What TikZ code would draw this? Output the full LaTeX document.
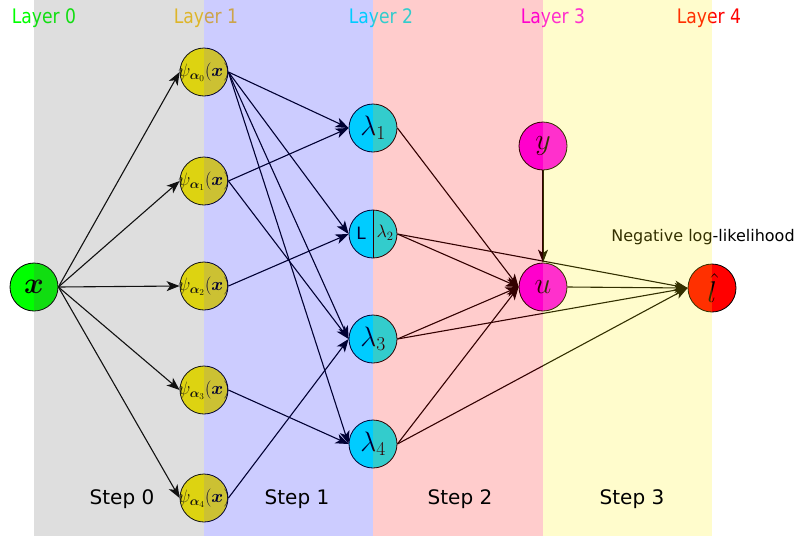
\RequirePackage{fix-cm}
\documentclass[tikz,border=0pt]{standalone}
\usepackage{amsmath}
\usepackage{fontspec}
\setsansfont{DejaVu Sans}
\newfontfamily\layerfont{DejaVu Sans}[FakeStretch=0.86]
\usetikzlibrary{arrows.meta}
\definecolor{layerzero}{RGB}{0,255,0}
\definecolor{layerone}{RGB}{255,205,30}
\definecolor{layertwo}{RGB}{0,255,255}
\definecolor{layerthree}{RGB}{255,0,255}
\definecolor{layerfour}{RGB}{255,0,0}
\begin{document}
\begin{tikzpicture}[x=1pt,y=-1pt,
  nd/.style={circle,draw=black,line width=0.8pt,minimum size=48pt,inner sep=0pt},
  psinode/.style={nd,fill=yellow,font=\fontsize{18}{21}\selectfont},
  lamnode/.style={nd,fill=layertwo,font=\fontsize{28}{32}\selectfont},
  bignode/.style={nd,font=\fontsize{30}{34}\selectfont},
  edge/.style={line width=1.1pt,-{Stealth[length=13pt,width=10pt,inset=3.5pt]}},
  layerlbl/.style={font=\layerfont\fontsize{20}{24}\selectfont},
  steplbl/.style={font=\sffamily\fontsize{20}{24}\selectfont,text=black},
  band/.style={fill opacity=0.2}
]
\useasboundingbox (0,0) rectangle (799,536);

% nodes
\node[bignode,fill=layerzero] (x) at (34,287) {\makebox[0pt]{$\boldsymbol{x}$}};
\node[psinode] (p0) at (204,72) {\makebox[0pt]{$\psi_{\boldsymbol{\alpha}_0}(\boldsymbol{x})$}};
\node[psinode] (p1) at (204,181) {\makebox[0pt]{$\psi_{\boldsymbol{\alpha}_1}(\boldsymbol{x})$}};
\node[psinode] (p2) at (204,286) {\makebox[0pt]{$\psi_{\boldsymbol{\alpha}_2}(\boldsymbol{x})$}};
\node[psinode] (p3) at (204,390) {\makebox[0pt]{$\psi_{\boldsymbol{\alpha}_3}(\boldsymbol{x})$}};
\node[psinode] (p4) at (204,498) {\makebox[0pt]{$\psi_{\boldsymbol{\alpha}_4}(\boldsymbol{x})$}};

\node[lamnode] (l1) at (373,128) {\makebox[0pt]{$\lambda_1$}};
\node[nd,fill=layertwo] (l2) at (373,234) {};
\draw[line width=0.8pt] (l2.north) -- (l2.south);
\node[font=\sffamily\fontsize{17}{20}\selectfont] (l2a) at (361,233) {L};
\node[font=\fontsize{18}{21}\selectfont] (l2b) at (385,233) {$\lambda_2$};
\node[lamnode] (l3) at (373,339) {\makebox[0pt]{$\lambda_3$}};
\node[lamnode] (l4) at (373,444) {\makebox[0pt]{$\lambda_4$}};

\node[bignode,fill=layerthree] (y) at (543,146) {\makebox[0pt]{$y$}};
\node[bignode,fill=layerthree] (u) at (543,287) {\makebox[0pt]{$u$}};
\node[bignode,fill=layerfour] (lh) at (712,288) {\makebox[0pt]{$\hat{l}$}};

\node[font=\sffamily\fontsize{16}{19}\selectfont,text=black] (nll) at (703,237) {Negative log-likelihood};

% edges layer 0 -> 1
\foreach \p in {p0,p1,p2,p3,p4} \draw[edge] (x.east) -- (\p.west);
% layer 1 -> 2
\draw[edge] (p0.east) -- (l1.west);
\draw[edge] (p0.east) -- (l2.west);
\draw[edge] (p0.east) -- (l3.west);
\draw[edge] (p0.east) -- (l4.west);
\draw[edge] (p1.east) -- (l1.west);
\draw[edge] (p1.east) -- (l3.west);
\draw[edge] (p2.east) -- (l2.west);
\draw[edge] (p3.east) -- (l4.west);
\draw[edge] (p4.east) -- (l3.west);
% layer 2 -> 3
\draw[edge] (l1.east) -- (u.west);
\draw[edge] (l2.east) -- (u.west);
\draw[edge] (l3.east) -- (u.west);
\draw[edge] (l4.east) -- (u.west);
\draw[edge] (y.south) -- (u.north);
% to output
\draw[edge] (l2.east) -- (lh.west);
\draw[edge] (l3.east) -- (lh.west);
\draw[edge] (l4.east) -- (lh.west);
\draw[edge] (u.east) -- (lh.west);

% layer labels
\node[layerlbl,text=layerzero] (t0) at (44,18) {Layer 0};
\node[layerlbl,text=layerone] (t1) at (206,18) {Layer 1};
\node[layerlbl,text=layertwo] (t2) at (381,18) {Layer 2};
\node[layerlbl,text=layerthree] (t3) at (553,18) {Layer 3};
\node[layerlbl,text=layerfour] (t4) at (709,18) {Layer 4};

% translucent bands on top
\fill[band,fill=black!65] (34,0) rectangle (204,536);
\fill[band,fill=blue] (204,0) rectangle (373,536);
\fill[band,fill=red] (373,0) rectangle (543,536);
\fill[band,fill=yellow] (543,0) rectangle (712,536);

% step labels
\node[steplbl] (s0) at (122,499) {Step 0};
\node[steplbl] (s1) at (297,499) {Step 1};
\node[steplbl] (s2) at (460,499) {Step 2};
\node[steplbl] (s3) at (632,499) {Step 3};
\end{tikzpicture}
\end{document}
